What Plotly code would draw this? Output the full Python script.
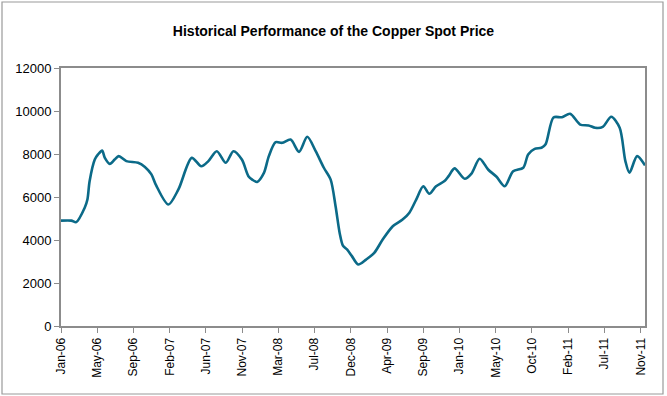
import plotly.graph_objects as go
import pandas as pd

# ---- data ----
dates = [
    "2006-01-06", "2006-02-13", "2006-03-03", "2006-04-03", "2006-04-13", "2006-04-21",
    "2006-05-10", "2006-05-22", "2006-06-06", "2006-06-16", "2006-07-04", "2006-07-22",
    "2006-08-06", "2006-09-03", "2006-10-16", "2006-11-10", "2006-12-04", "2006-12-21",
    "2007-02-04", "2007-03-13", "2007-05-01", "2007-06-05", "2007-07-01", "2007-08-01",
    "2007-09-03", "2007-10-01", "2007-11-01", "2007-11-25", "2007-12-09", "2007-12-27",
    "2008-01-21", "2008-02-08", "2008-03-04", "2008-03-28", "2008-04-28", "2008-05-29",
    "2008-06-28", "2008-07-29", "2008-08-28", "2008-09-22", "2008-10-10", "2008-10-25",
    "2008-11-06", "2008-11-21", "2008-12-09", "2009-01-01", "2009-01-30", "2009-03-01",
    "2009-04-01", "2009-05-08", "2009-06-13", "2009-07-08", "2009-08-02", "2009-08-28",
    "2009-09-19", "2009-10-14", "2009-11-14", "2009-11-29", "2009-12-21", "2010-01-27",
    "2010-02-21", "2010-03-23", "2010-04-23", "2010-05-24", "2010-06-23", "2010-07-24",
    "2010-08-30", "2010-09-17", "2010-10-11", "2010-11-05", "2010-11-20", "2010-12-19",
    "2011-01-19", "2011-02-18", "2011-03-27", "2011-04-27", "2011-05-21", "2011-06-18",
    "2011-07-19", "2011-08-19", "2011-09-09", "2011-09-24", "2011-10-22", "2011-11-20",
]
prices = [
    4900, 4900, 4830, 5500, 5880, 6730,
    7740, 7980, 8160, 7820, 7540, 7740,
    7900, 7670, 7590, 7400, 7050, 6550,
    5650, 6350, 7820, 7430, 7670, 8130,
    7590, 8130, 7740, 6970, 6810, 6700,
    7120, 7900, 8550, 8520, 8670, 8100,
    8800, 8130, 7360, 6810, 5570, 4330,
    3740, 3560, 3250, 2860, 3090, 3400,
    4020, 4640, 4950, 5270, 5880, 6500,
    6150, 6500, 6740, 6970, 7330, 6850,
    7090, 7780, 7280, 6940, 6500, 7200,
    7360, 7980, 8240, 8290, 8450, 9700,
    9710, 9870, 9370, 9330, 9220, 9260,
    9730, 9220, 7670, 7130, 7900, 7470,
]
tick_labels = [
    "Jan-06", "May-06", "Sep-06", "Feb-07", "Jun-07", "Nov-07", "Mar-08", "Jul-08",
    "Dec-08", "Apr-09", "Sep-09", "Jan-10", "May-10", "Oct-10", "Feb-11", "Jul-11", "Nov-11",
]
y_ticks = [0, 2000, 4000, 6000, 8000, 10000, 12000]

# ---- layout helpers ----
start = pd.Timestamp(dates[0])
tick_vals = [start + pd.Timedelta(days=133 * k) for k in range(len(tick_labels))]
x_end = start + pd.Timedelta(days=2144)

FONT = "Liberation Sans, Arial, sans-serif"
AXIS_GREY = "#8c8c8c"

W, H = 667, 396
ML, MR, MT, MB = 61, 22, 68, 70
pw, ph = W - ML - MR, H - MT - MB

fig = go.Figure()
fig.add_trace(go.Scatter(
    x=pd.to_datetime(dates), y=prices, mode="lines",
    line=dict(color="#0b6a88", width=2.6, shape="spline", smoothing=0.8),
    hoverinfo="x+y", showlegend=False,
))

# outer chart border (in paper coords relative to plot area)
bx0, bx1 = (2 - ML) / pw, (663 - ML) / pw
by0, by1 = (H - MB - 394) / ph, (H - MB - 2) / ph

fig.update_layout(
    width=W, height=H,
    margin=dict(l=ML, r=MR, t=MT, b=MB),
    paper_bgcolor="white", plot_bgcolor="white",
    font=dict(family=FONT, color="black", size=12),
    title=dict(
        text="<b>Historical Performance of the Copper Spot Price</b>",
        x=0.5, xref="container", xanchor="center",
        y=1 - 31 / H, yref="container", yanchor="middle",
        font=dict(family=FONT, size=14, color="black"),
    ),
    xaxis=dict(
        type="date", range=[start, x_end],
        tickmode="array", tickvals=tick_vals, ticktext=tick_labels,
        tickangle=-90, ticks="outside", ticklen=5, tickwidth=1, tickcolor=AXIS_GREY,
        showline=True, linecolor=AXIS_GREY, linewidth=2, mirror=True,
        showgrid=False, zeroline=False,
        tickfont=dict(family=FONT, size=12, color="black"),
    ),
    yaxis=dict(
        range=[0, 12000], tickmode="array", tickvals=y_ticks, tickformat="d",
        ticks="outside", ticklen=5, tickwidth=1, tickcolor=AXIS_GREY,
        showline=True, linecolor=AXIS_GREY, linewidth=2, mirror=True,
        showgrid=False, zeroline=False,
        tickfont=dict(family=FONT, size=13, color="black"),
    ),
    shapes=[dict(
        type="rect", xref="paper", yref="paper",
        x0=bx0, x1=bx1, y0=by0, y1=by1,
        line=dict(color="#9a9a9a", width=1.2), fillcolor="rgba(0,0,0,0)", layer="below",
    )],
)

fig.write_html(
    "out.html",
    config={"displayModeBar": False},
    post_script="document.body.style.margin='0';document.body.style.overflow='hidden';",
)
